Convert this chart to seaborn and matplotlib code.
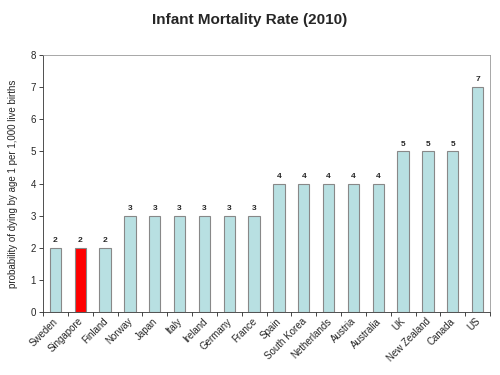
import matplotlib
matplotlib.use("Agg")
import matplotlib.pyplot as plt
import seaborn as sns
import numpy as np

countries = ["Sweden", "Singapore", "Finland", "Norway", "Japan", "Italy", "Ireland",
             "Germany", "France", "Spain", "South Korea", "Netherlands", "Austria",
             "Australia", "UK", "New Zealand", "Canada", "US"]
values = [2, 2, 2, 3, 3, 3, 3, 3, 3, 4, 4, 4, 4, 4, 5, 5, 5, 7]
highlight = "Singapore"

sns.set_theme(style="white")
plt.rcParams['font.family'] = ['Liberation Sans', 'DejaVu Sans']

colors = ["#ff0000" if c == highlight else "#b8e0e2" for c in countries]

fig = plt.figure(figsize=(5, 3.75), dpi=100)
ax = fig.add_axes([0.086, 0.168, 0.894, 0.685])
sns.barplot(x=countries, y=values, hue=countries, palette=colors, legend=False,
            width=0.45, edgecolor="#888888", linewidth=0.8, ax=ax, saturation=1)

for i, v in enumerate(values):
    ax.text(i, v + 0.12, str(v), ha="center", va="bottom", fontsize=6, fontweight="bold")

ax.set_ylim(0, 8)
ax.set_xlim(-0.5, len(countries) - 0.5)
ax.set_yticks(range(0, 9))
ax.tick_params(axis="y", labelsize=7, length=3, width=0.6, pad=2, left=True)
ax.set_xticks(np.arange(len(countries)) - 0.1)
ax.set_xticklabels(countries, rotation=45, ha="right", rotation_mode="anchor", fontsize=7)
ax.tick_params(axis="x", length=0, pad=3)
ax.set_xticks(np.arange(-0.5, len(countries), 1), minor=True)
ax.tick_params(axis="x", which="minor", length=3, width=0.6, bottom=True)
for s in ax.spines.values():
    s.set_color("#333333")
    s.set_linewidth(0.6)
for s in ["top", "right"]:
    ax.spines[s].set_color("#999999")
ax.set_ylabel("probability of dying by age 1 per 1,000 live births", fontsize=7, labelpad=9)
ax.set_xlabel("")
fig.suptitle("Infant Mortality Rate (2010)", fontsize=11, fontweight="bold", y=0.965)

fig.savefig("out.png", dpi=100)
